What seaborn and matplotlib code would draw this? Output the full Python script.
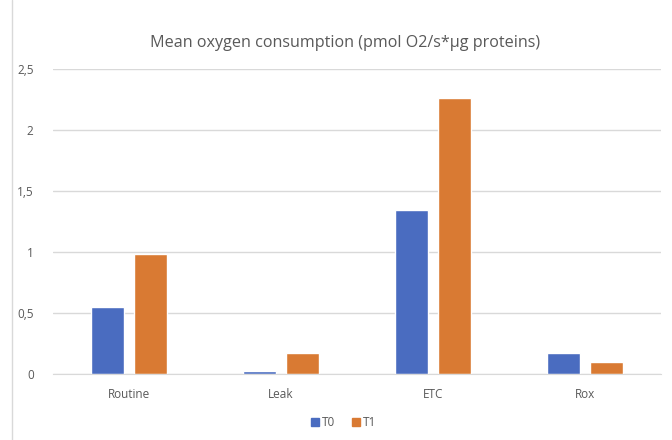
import matplotlib
matplotlib.use("Agg")
import matplotlib.pyplot as plt
import seaborn as sns
import pandas as pd
from matplotlib.lines import Line2D

categories = ["Routine", "Leak", "ETC", "Rox"]
t0_values = [0.55, 0.025, 1.345, 0.17]
t1_values = [0.98, 0.17, 2.26, 0.10]
series_names = ["T0", "T1"]
ytick_values = [0, 0.5, 1, 1.5, 2, 2.5]
ytick_labels = ["0", "0,5", "1", "1,5", "2", "2,5"]
title = "Mean oxygen consumption (pmol O2/s*\u00b5g proteins)"

df = pd.DataFrame({
    "category": categories * 2,
    "value": t0_values + t1_values,
    "series": [series_names[0]] * len(categories) + [series_names[1]] * len(categories),
})

sns.set_style("white")
plt.rcParams["font.family"] = ["Open Sans", "DejaVu Sans"]

fig = plt.figure(figsize=(6.72, 4.4), dpi=100)
ax = fig.add_axes([0.079, 0.15, 0.905, 0.693])

palette = {"T0": "#4a6cc0", "T1": "#d97a33"}
sns.barplot(data=df, x="category", y="value", hue="series", order=categories,
            hue_order=series_names, palette=palette, width=0.566, gap=0.233,
            saturation=1, ax=ax, legend=False)

ax.set_xlim(-0.5, 3.5)
ax.set_ylim(0, 2.5)
ax.set_yticks(ytick_values)
ax.set_yticklabels(ytick_labels)
ax.yaxis.grid(True, color="#d9d9d9", linewidth=1)
ax.set_axisbelow(True)
for s in ["top", "right", "left"]:
    ax.spines[s].set_visible(False)
ax.spines["bottom"].set_color("#d9d9d9")
ax.set_xlabel("")
ax.set_ylabel("")
ax.tick_params(axis="both", length=0, labelsize=8.5, colors="#595959", pad=10)
ax.tick_params(axis="y", pad=14)

fig.text(0.513, 0.903, title, ha="center", va="center", fontsize=11.6, color="#595959")

handles = [Line2D([0], [0], marker="s", linestyle="", markersize=6,
                  markerfacecolor=palette[n], markeredgecolor=palette[n]) for n in series_names]
fig.legend(handles, series_names, loc="center", bbox_to_anchor=(0.51, 0.04), ncol=2,
           frameon=False, fontsize=8.5, labelcolor="#595959", handletextpad=0.1,
           columnspacing=1.2, handlelength=1)

fig.add_artist(Line2D([0.018, 0.018], [0, 1], transform=fig.transFigure, color="#d9d9d9", linewidth=1))

fig.savefig("out.png", dpi=100)
